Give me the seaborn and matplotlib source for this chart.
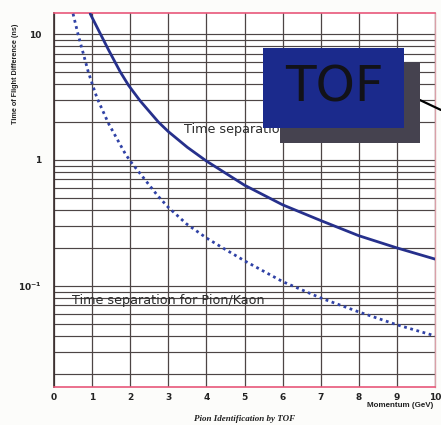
import numpy as np
import pandas as pd
import matplotlib
matplotlib.use("Agg")
import matplotlib.pyplot as plt
import seaborn as sns
from matplotlib.patches import Rectangle
from matplotlib.lines import Line2D
from matplotlib.ticker import FixedLocator, MultipleLocator, LogLocator, NullFormatter

# ---- data ----
momentum_kp = [0.95, 1.22, 1.43, 1.74, 1.96, 2.26, 2.74, 3.0, 3.5, 4.0, 5.0, 6.0, 7.0, 8.0, 9.0, 10.0]
tof_kp = [14.5, 10.0, 7.5, 5.0, 3.9, 2.95, 2.0, 1.68, 1.26, 0.98, 0.63, 0.44, 0.33, 0.25, 0.2, 0.163]

momentum_pik = [0.5, 0.63, 0.9, 1.03, 1.13, 1.43, 1.87, 2.0, 2.72, 3.0, 3.48, 4.0, 4.43, 5.0, 6.0, 7.0, 8.0, 9.0, 10.0]
tof_pik = [14.5, 10.0, 5.0, 3.8, 3.1, 1.95, 1.12, 0.98, 0.52, 0.42, 0.31, 0.24, 0.2, 0.158, 0.108, 0.08, 0.062, 0.049, 0.040]

x_ticks = list(range(0, 11))
x_tick_labels = [str(v) for v in x_ticks]
y_ticks = [0.1, 1, 10]
y_tick_labels = [r'$\mathbf{10^{-1}}$', '1', '10']

label_kp = 'Time separation for Kaon/Proton'
label_pik = 'Time separation for Pion/Kaon'
y_title = 'Time of Flight Difference (ns)'
x_title = 'Momentum (GeV)'
caption = 'Pion Identification by TOF'
box_text = 'TOF'

df_kp = pd.DataFrame({'p': momentum_kp, 't': tof_kp})
df_pik = pd.DataFrame({'p': momentum_pik, 't': tof_pik})

# ---- figure ----
sns.set_style('white')
plt.rcParams['font.family'] = ['DejaVu Sans']
W, H = 441, 425
fig = plt.figure(figsize=(W / 100, H / 100), dpi=100)
fig.patch.set_facecolor('#fcfcfa')

L, R, T, B = 54, 435, 13, 387
ax = fig.add_axes([L / W, 1 - B / H, (R - L) / W, (B - T) / H])
ax.set_facecolor('white')

sns.lineplot(data=df_kp, x='p', y='t', ax=ax, color='#26308c', lw=2.0,
             zorder=4, sort=True)
sns.lineplot(data=df_pik, x='p', y='t', ax=ax, color='#3042a6', lw=2.0,
             linestyle=(0, (1, 1.3)), zorder=4, sort=True)

ax.set_yscale('log')
ax.set_xlim(0, 10)
ax.set_ylim(0.0157, 14.7)

ax.xaxis.set_major_locator(FixedLocator(x_ticks))
ax.set_xticklabels(x_tick_labels)
ax.xaxis.set_minor_locator(MultipleLocator(0.2))
ax.yaxis.set_major_locator(FixedLocator(y_ticks))
ax.set_yticklabels(y_tick_labels)
ax.yaxis.set_minor_locator(LogLocator(base=10, subs=np.arange(2, 10) * 1.0, numticks=20))
ax.yaxis.set_minor_formatter(NullFormatter())

grid_col = '#4d4545'
ax.grid(True, which='major', axis='x', color=grid_col, lw=0.9)
ax.grid(True, which='both', axis='y', color=grid_col, lw=0.85)
ax.set_axisbelow(True)

ax.tick_params(axis='x', which='major', direction='in', length=5, width=1,
               color='#3a2e2e', pad=4, labelsize=6.5)
ax.tick_params(axis='x', which='minor', direction='in', length=4, width=1,
               color='#3a2e2e', top=False)
ax.tick_params(axis='y', which='major', direction='out', length=2, width=0.8,
               color='#3a2e2e', pad=7, labelsize=6.5)
ax.tick_params(axis='y', which='minor', length=0)
for lab in ax.get_xticklabels() + ax.get_yticklabels():
    lab.set_fontweight('bold')
    lab.set_color('#222222')

ax.set_xlabel('')
ax.set_ylabel('')

for s in ['top', 'bottom']:
    ax.spines[s].set_color('#e8577a')
    ax.spines[s].set_linewidth(1.2)
ax.spines['left'].set_color('#3a2e2e')
ax.spines['left'].set_linewidth(1.2)
ax.spines['right'].set_color('#d9a0a8')
ax.spines['right'].set_linewidth(1.0)

# in-plot annotations
ax.text(3.42, 1.73, label_kp, fontsize=9.2, color='#2a2a2a', va='center',
        ha='left', zorder=5)
ax.text(0.48, 0.076, label_pik, fontsize=9.2, color='#2a2a2a', va='center',
        ha='left', zorder=5)

# TOF box with shadow and pointer line (figure coordinates)
def fx(px):
    return px / W

def fy(py):
    return 1 - py / H

fig.add_artist(Line2D([fx(405), fx(441)], [fy(93), fy(110)], transform=fig.transFigure,
                      color='black', lw=1.6, zorder=1.5))
fig.add_artist(Rectangle((fx(280), fy(143)), 140 / W, 81 / H, transform=fig.transFigure,
                         facecolor='#45424f', edgecolor='none', zorder=2))
fig.add_artist(Rectangle((fx(263), fy(128)), 141 / W, 80 / H, transform=fig.transFigure,
                         facecolor='#1b2a8c', edgecolor='none', zorder=3))
fig.text(fx(334), fy(88), box_text, fontsize=36, color='#121218', ha='center',
         va='center', zorder=4)

# axis titles
fig.text(fx(15.5), fy(73.5), y_title, rotation=90, fontsize=5.2, fontweight='bold',
         color='#222222', ha='center', va='center', family=['Liberation Sans', 'DejaVu Sans'])
fig.text(fx(400), fy(405.5), x_title, fontsize=5.8, fontweight='bold', color='#222222',
         ha='center', va='center', family=['Liberation Sans', 'DejaVu Sans'])
fig.text(fx(244.5), fy(419), caption, fontsize=6.5, fontweight='bold', style='italic',
         color='#222222', ha='center', va='center', family=['Liberation Serif', 'DejaVu Serif'])

fig.savefig('out.png', dpi=100, facecolor=fig.get_facecolor())
